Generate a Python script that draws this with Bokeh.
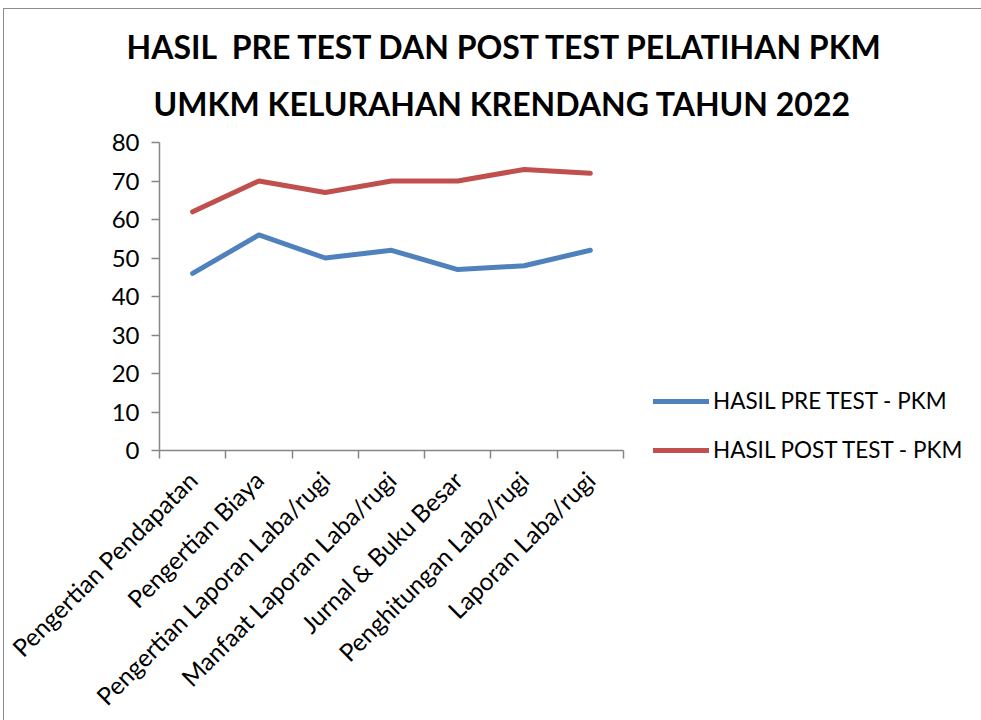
from bokeh.plotting import figure
from bokeh.models import (Range1d, FixedTicker, LinearAxis, Legend, LegendItem, Title)
from bokeh.embed import file_html
from bokeh.resources import INLINE

# ---- data ----
categories = ["Pengertian Pendapatan", "Pengertian Biaya", "Pengertian Laporan Laba/rugi",
              "Manfaat Laporan Laba/rugi", "Jurnal & Buku Besar",
              "Penghitungan Laba/rugi", "Laporan Laba/rugi"]
pre_test = [46, 56, 50, 52, 47, 48, 52]
post_test = [62, 70, 67, 70, 70, 73, 72]
series_names = ["HASIL PRE TEST - PKM", "HASIL POST TEST - PKM"]
title_lines = ["HASIL \u00a0PRE TEST DAN POST TEST PELATIHAN PKM",
               "UMKM KELURAHAN KRENDANG TAHUN 2022"]
y_ticks = [0, 10, 20, 30, 40, 50, 60, 70, 80]

FONT = "Lato"
GRAY = "#868686"
BLUE = "#4F81BD"
RED = "#C0504D"

OX, OY = 3, 8            # figure offset on page
W, H = 976, 710
FL, FT, FW, FH = 158 - OX, 141 - OY, 464, 308

xs = list(range(len(categories)))

p = figure(width=W, height=H, output_backend="svg", toolbar_location=None,
           x_range=Range1d(-0.5, len(categories) - 0.5), y_range=Range1d(0, 80),
           x_axis_type=None, y_axis_type=None,
           min_border_left=FL, min_border_top=FT,
           min_border_right=W - FL - FW, min_border_bottom=H - FT - FH,
           frame_width=FW, frame_height=FH)
p.title = None
p.outline_line_color = None
p.background_fill_color = "white"
p.border_fill_color = "white"
p.styles = {"border-left": "1px solid #8c8c8c", "border-top": "1px solid #8c8c8c",
            "margin-left": f"{OX}px", "margin-top": f"{OY}px"}

# title: two lines, second one nearest to the plot
for text, off, so in [(title_lines[1], -6, 40), (title_lines[0], -33, -9)]:
    t = Title(text=text, align="left", offset=off, standoff=so,
              text_font=FONT, text_font_style="bold", text_font_size="32px",
              text_color="black")
    p.add_layout(t, "above")

# y axis
yaxis = LinearAxis(ticker=FixedTicker(ticks=y_ticks))
yaxis.axis_line_color = GRAY
yaxis.axis_line_width = 1.5
yaxis.major_tick_line_color = GRAY
yaxis.major_tick_line_width = 1.5
yaxis.major_tick_out = 8
yaxis.major_tick_in = 0
yaxis.minor_tick_line_color = None
yaxis.major_label_text_font = FONT
yaxis.major_label_text_font_size = "24px"
yaxis.major_label_text_color = "black"
yaxis.major_label_standoff = 12
p.add_layout(yaxis, "left")

# x axis
bounds = [i - 0.5 for i in range(len(categories) + 1)]
xaxis = LinearAxis(ticker=FixedTicker(ticks=xs, minor_ticks=bounds))
xaxis.major_label_overrides = {i: c for i, c in enumerate(categories)}
xaxis.axis_line_color = GRAY
xaxis.axis_line_width = 1.5
xaxis.major_tick_line_color = None
xaxis.major_tick_out = 0
xaxis.major_tick_in = 0
xaxis.minor_tick_line_color = GRAY
xaxis.minor_tick_line_width = 1.5
xaxis.minor_tick_out = 8
xaxis.minor_tick_in = 0
xaxis.major_label_orientation = 0.785398
xaxis.major_label_text_font = FONT
xaxis.major_label_text_font_size = "24.5px"
xaxis.major_label_text_color = "black"
xaxis.major_label_standoff = 17
p.add_layout(xaxis, "below")

# grid
p.ygrid.ticker = FixedTicker(ticks=y_ticks)
p.ygrid.grid_line_color = GRAY
p.ygrid.grid_line_width = 1.5
p.xgrid.grid_line_color = None

r1 = p.line(xs, pre_test, line_color=BLUE, line_width=5, line_cap="round", line_join="round")
r2 = p.line(xs, post_test, line_color=RED, line_width=5, line_cap="round", line_join="round")

legend = Legend(items=[LegendItem(label=series_names[0], renderers=[r1]),
                       LegendItem(label=series_names[1], renderers=[r2])],
                location=(30, -13), orientation="vertical")
legend.glyph_width = 56
legend.glyph_height = 24
legend.label_height = 24
legend.spacing = 22
legend.padding = 0
legend.margin = 0
legend.label_standoff = 4
legend.border_line_color = None
legend.background_fill_alpha = 0
legend.label_text_font = FONT
legend.label_text_font_size = "22.5px"
legend.label_text_color = "black"
p.add_layout(legend, "right")

open("out.html", "w").write(file_html(p, INLINE))
